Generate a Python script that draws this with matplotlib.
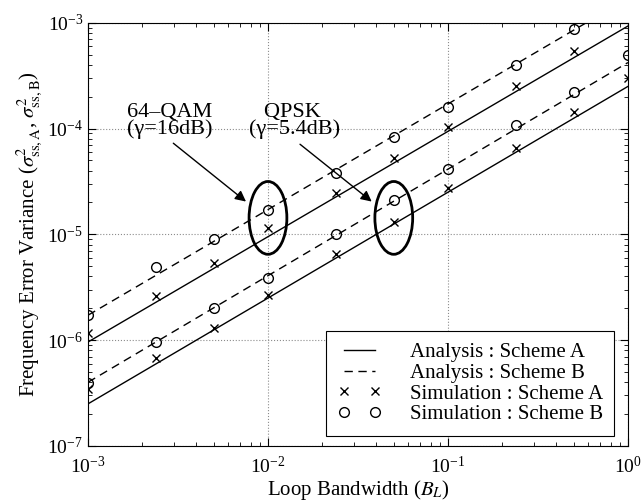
import numpy as np
import matplotlib
matplotlib.use('Agg')
import matplotlib.pyplot as plt
from matplotlib.patches import Ellipse

plt.rcParams['font.family'] = ['Liberation Serif', 'DejaVu Serif']
plt.rcParams['mathtext.fontset'] = 'stix'
plt.rcParams['font.size'] = 14

# ---- data ----
bw = [0.001, 0.0024, 0.005, 0.01, 0.024, 0.05, 0.1, 0.24, 0.5, 1.0]

# analysis lines (straight in log-log), given at the two ends of the x range
line_x = [0.001, 1.0]
qam_A_line = [9.6e-7, 9.3e-4]
qam_B_line = [1.72e-6, 1.7e-3]
qpsk_A_line = [2.5e-7, 2.5e-4]
qpsk_B_line = [4.0e-7, 4.2e-4]

# simulation points (64-QAM has none visible at B_L = 1)
qam_A_sim = [1.16e-6, 2.63e-6, 5.38e-6, 1.16e-5, 2.45e-5, 5.24e-5, 1.04e-4, 2.52e-4, 5.44e-4]
qam_B_sim = [1.73e-6, 4.86e-6, 9.06e-6, 1.68e-5, 3.78e-5, 8.39e-5, 1.61e-4, 3.99e-4, 8.72e-4]
qpsk_A_sim = [3.42e-7, 6.82e-7, 1.31e-6, 2.67e-6, 6.5e-6, 1.32e-5, 2.77e-5, 6.52e-5, 1.44e-4, 2.99e-4]
qpsk_B_sim = [3.96e-7, 9.51e-7, 2.02e-6, 3.88e-6, 1.00e-5, 2.12e-5, 4.13e-5, 1.08e-4, 2.23e-4, 4.95e-4]

fig = plt.figure(figsize=(6.44, 5.04), dpi=100)
ax = fig.add_axes([0.1366, 0.1151, 0.8385, 0.8399])
ax.set_xscale('log')
ax.set_yscale('log')
ax.set_xlim(1e-3, 1)
ax.set_ylim(1e-7, 1e-3)

dash = (6, 4)
line_kw = dict(color='k', lw=1.0)
ax.plot(line_x, qam_A_line, '-', **line_kw, label='Analysis : Scheme A')
ax.plot(line_x, qam_B_line, '--', dashes=dash, **line_kw, label='Analysis : Scheme B')
ax.plot(line_x, qpsk_A_line, '-', **line_kw)
ax.plot(line_x, qpsk_B_line, '--', dashes=dash, **line_kw)

x_kw = dict(ls='none', marker='x', ms=6, mew=1.0, color='k')
o_kw = dict(ls='none', marker='o', ms=7, mew=1.0, mfc='none', mec='k')
ax.plot(bw[:len(qam_A_sim)], qam_A_sim, **x_kw, label='Simulation : Scheme A')
ax.plot(bw[:len(qam_B_sim)], qam_B_sim, **o_kw, label='Simulation : Scheme B')
ax.plot(bw, qpsk_A_sim, **x_kw)
ax.plot(bw, qpsk_B_sim, **o_kw)

# ellipses marking the highlighted points (drawn in axes coords so they stay round)
to_axes = ax.transAxes.inverted()
for cx in (0.01, 0.05):
    c = to_axes.transform(ax.transData.transform((cx, 1.43e-5)))
    ax.add_patch(Ellipse(c, 0.070, 0.172, transform=ax.transAxes,
                         fill=False, lw=2.0, ec='k', zorder=5))

ax.text(2.86e-3, 1.18e-4, '64\u2013QAM\n(\u03b3=16dB)', ha='center', va='center',
        fontsize=16, linespacing=0.8)
ax.text(0.0141, 1.18e-4, 'QPSK \n(\u03b3=5.4dB)', ha='center', va='center',
        fontsize=16, linespacing=0.8)
arrow = dict(arrowstyle='-|>', color='k', lw=1.0, mutation_scale=16, shrinkA=0, shrinkB=0)
ax.annotate('', xy=(7.55e-3, 2.04e-5), xytext=(2.98e-3, 7.26e-5), arrowprops=arrow)
ax.annotate('', xy=(0.0377, 2.04e-5), xytext=(0.01507, 7.1e-5), arrowprops=arrow)

ax.grid(True, which='major', ls=':', color='0.55', lw=0.8)
ax.tick_params(which='both', direction='in', top=True, right=True, labelsize=14)
ax.tick_params(which='major', length=6)
ax.tick_params(which='minor', length=3)
ax.tick_params(axis='x', pad=7)

ax.set_xlabel(r'Loop Bandwidth ($B_L$)', fontsize=15, labelpad=1)
ax.set_ylabel(r'Frequency Error Variance ($\sigma^2_{\rm ss,A}$, $\sigma^2_{\rm ss,B}$)',
              fontsize=15, labelpad=2)

leg = ax.legend(loc='lower right', bbox_to_anchor=(0.975, 0.024), borderaxespad=0,
                fontsize=15, numpoints=2, handlelength=2.1, handletextpad=1.35,
                labelspacing=0.05, borderpad=0.55, fancybox=False, framealpha=1)
leg.get_frame().set_edgecolor('k')
leg.get_frame().set_linewidth(0.8)

fig.savefig('out.png', dpi=100)
